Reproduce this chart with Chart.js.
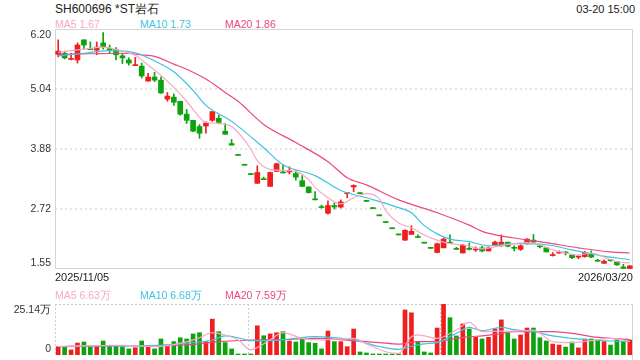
<!DOCTYPE html>
<html>
<head>
<meta charset="utf-8">
<script src="https://cdn.jsdelivr.net/npm/chart.js@4.4.1/dist/chart.umd.min.js"></script>
<style>
  body { margin: 0; width: 640px; height: 360px; overflow: hidden; background: #fff; position: relative;
         font-family: "Liberation Sans", Arial, sans-serif; color: #333; }
  .t { position: absolute; white-space: nowrap; line-height: 1; }
  #main { position: absolute; left: 0; top: 0; }
  #vol { position: absolute; left: 0; top: 298px; }
</style>
</head>
<body>
<div class="t" style="left:55px;top:3px;font-size:12px;color:#222">SH600696 *ST岩石</div>
<div class="t" style="right:5px;top:4px;font-size:11px;color:#222">03-20 15:00</div>
<div class="t" style="left:55px;top:19px;font-size:10.5px;color:#f7a8c6">MA5 1.67</div>
<div class="t" style="left:140px;top:19px;font-size:10.5px;color:#3ec3df">MA10 1.73</div>
<div class="t" style="left:225px;top:19px;font-size:10.5px;color:#ea4a7e">MA20 1.86</div>
<canvas id="main" width="640" height="272"></canvas>
<div class="t" style="left:55px;top:272px;font-size:11px;color:#222">2025/11/05</div>
<div class="t" style="right:7px;top:272px;font-size:11px;color:#222">2026/03/20</div>
<div class="t" style="left:55px;top:290px;font-size:10.5px;color:#f7a8c6">MA5 6.63万</div>
<div class="t" style="left:140px;top:290px;font-size:10.5px;color:#3ec3df">MA10 6.68万</div>
<div class="t" style="left:225px;top:290px;font-size:10.5px;color:#ea4a7e">MA20 7.59万</div>
<canvas id="vol" width="640" height="62"></canvas>
<script>
// trading days 2025/11/05 - 2026/03/20
var dates = [
  "11-05", "11-06", "11-07", "11-10", "11-11", "11-12", "11-13", "11-14", "11-17", "11-18",
  "11-19", "11-20", "11-21", "11-24", "11-25", "11-26", "11-27", "11-28", "12-01", "12-02",
  "12-03", "12-04", "12-05", "12-08", "12-09", "12-10", "12-11", "12-12", "12-15", "12-16",
  "12-17", "12-18", "12-19", "12-22", "12-23", "12-24", "12-25", "12-26", "12-29", "12-30",
  "12-31", "01-05", "01-06", "01-07", "01-08", "01-09", "01-12", "01-13", "01-14", "01-15",
  "01-16", "01-19", "01-20", "01-21", "01-22", "01-23", "01-26", "01-27", "01-28", "01-29",
  "01-30", "02-02", "02-03", "02-04", "02-05", "02-06", "02-09", "02-10", "02-11", "02-12",
  "02-13", "02-24", "02-25", "02-26", "02-27", "03-02", "03-03", "03-04", "03-05", "03-06",
  "03-09", "03-10", "03-11", "03-12", "03-13", "03-16", "03-17", "03-18", "03-19", "03-20",
];
var opens = [
  5.71, 5.73, 5.61, 5.60, 5.99, 5.82, 5.79, 5.93, 5.81, 5.80,
  5.68, 5.60, 5.49, 5.48, 5.19, 5.27, 5.21, 4.84, 4.88, 4.80,
  4.55, 4.43, 4.31, 4.32, 4.43, 4.47, 4.22, 3.98, 3.75, 3.56,
  3.38, 3.21, 3.30, 3.15, 3.44, 3.43, 3.43, 3.40, 3.26, 3.14,
  2.91, 2.75, 2.63, 2.78, 2.75, 3.01, 3.14, 3.01, 2.86, 2.72,
  2.58, 2.45, 2.33, 2.21, 2.11, 2.22, 2.17, 2.05, 1.95, 1.87,
  1.96, 2.06, 1.94, 1.86, 1.95, 1.92, 1.96, 1.90, 2.01, 2.00,
  2.07, 1.96, 1.93, 2.04, 2.11, 1.99, 1.96, 1.81, 1.86, 1.87,
  1.82, 1.78, 1.79, 1.84, 1.71, 1.66, 1.72, 1.69, 1.59, 1.56,
];
var highs = [
  5.99, 5.77, 5.73, 5.93, 5.99, 5.95, 5.95, 6.13, 5.89, 5.84,
  5.73, 5.64, 5.65, 5.54, 5.34, 5.36, 5.27, 4.97, 4.94, 4.80,
  4.64, 4.43, 4.35, 4.40, 4.60, 4.53, 4.37, 4.06, 3.75, 3.56,
  3.38, 3.55, 3.33, 3.43, 3.60, 3.57, 3.53, 3.45, 3.36, 3.14,
  3.05, 2.79, 2.87, 2.83, 2.89, 3.02, 3.18, 3.01, 2.86, 2.72,
  2.58, 2.45, 2.33, 2.21, 2.31, 2.39, 2.21, 2.05, 1.95, 2.05,
  2.15, 2.21, 1.97, 2.03, 2.05, 1.98, 1.99, 1.98, 2.09, 2.21,
  2.07, 2.00, 2.02, 2.14, 2.22, 2.00, 1.97, 1.87, 1.90, 1.89,
  1.83, 1.81, 1.89, 1.90, 1.74, 1.73, 1.74, 1.69, 1.64, 1.62,
];
var lows = [
  5.66, 5.62, 5.60, 5.54, 5.81, 5.80, 5.70, 5.81, 5.72, 5.60,
  5.53, 5.50, 5.49, 5.25, 5.19, 5.18, 4.95, 4.80, 4.72, 4.53,
  4.37, 4.21, 4.08, 4.18, 4.41, 4.36, 4.16, 3.95, 3.75, 3.56,
  3.38, 3.21, 3.28, 3.15, 3.44, 3.41, 3.39, 3.27, 3.15, 3.02,
  2.89, 2.73, 2.61, 2.71, 2.73, 2.93, 3.05, 3.01, 2.86, 2.72,
  2.58, 2.45, 2.33, 2.21, 2.10, 2.22, 2.16, 2.05, 1.95, 1.86,
  1.96, 2.05, 1.93, 1.86, 1.92, 1.89, 1.88, 1.90, 2.01, 1.99,
  1.98, 1.90, 1.91, 2.03, 2.06, 1.96, 1.88, 1.80, 1.85, 1.82,
  1.75, 1.75, 1.78, 1.77, 1.70, 1.66, 1.70, 1.62, 1.55, 1.55,
];
var closes = [
  5.77, 5.64, 5.62, 5.89, 5.89, 5.80, 5.85, 5.86, 5.80, 5.70,
  5.64, 5.54, 5.51, 5.29, 5.27, 5.21, 4.96, 4.90, 4.78, 4.55,
  4.43, 4.22, 4.18, 4.38, 4.60, 4.39, 4.16, 3.95, 3.75, 3.56,
  3.38, 3.42, 3.28, 3.42, 3.59, 3.41, 3.45, 3.33, 3.15, 3.03,
  2.89, 2.74, 2.78, 2.75, 2.85, 3.02, 3.17, 3.01, 2.86, 2.72,
  2.58, 2.45, 2.33, 2.21, 2.30, 2.28, 2.16, 2.05, 1.95, 2.04,
  2.13, 2.05, 1.93, 2.01, 1.93, 1.93, 1.90, 1.96, 2.07, 2.07,
  1.99, 1.95, 2.00, 2.13, 2.07, 1.98, 1.88, 1.82, 1.87, 1.86,
  1.77, 1.79, 1.87, 1.78, 1.70, 1.70, 1.71, 1.63, 1.56, 1.61,
];
// volume in 万股
var volumes = [
  4.1, 3.8, 2.5, 5.9, 6.4, 4.1, 4.4, 6.9, 4.8, 4.4,
  4.1, 3.0, 3.6, 6.9, 4.1, 3.0, 7.9, 4.6, 6.6, 8.5,
  7.9, 10.4, 11.0, 6.6, 17.7, 11.5, 6.1, 3.0, 0.5, 0.3,
  0.3, 14.4, 9.5, 10.4, 11.0, 11.5, 6.9, 6.4, 8.2, 6.1,
  5.8, 3.0, 11.8, 6.6, 6.6, 4.1, 12.8, 1.5, 1.0, 0.5,
  0.4, 0.3, 0.3, 0.3, 22.2, 20.8, 6.6, 1.5, 1.0, 13.3,
  25.14, 18.4, 9.4, 15.3, 12.8, 8.7, 7.9, 8.7, 12.8, 17.3,
  10.7, 7.9, 9.9, 13.3, 13.3, 8.5, 6.9, 5.4, 4.9, 3.9,
  6.4, 3.5, 7.9, 7.9, 7.4, 6.6, 4.9, 7.4, 6.4, 7.4,
];
// moving averages: [day index, value]
var ma5Pts = [[0,5.75],[4,5.81],[7,5.85],[10,5.77],[12,5.69],[14,5.50],[16,5.30],[18,5.07],[20,4.80],[22,4.49],[23,4.39],[25,4.37],[27,4.31],[28,4.20],[30,3.87],[31,3.65],[33,3.48],[35,3.46],[37,3.44],[39,3.28],[40,3.13],[42,2.93],[44,2.81],[46,2.93],[48,3.01],[50,2.91],[51,2.68],[53,2.44],[55,2.35],[57,2.21],[59,2.11],[61,2.04],[63,2.02],[66,1.94],[68,1.98],[71,2.04],[73,2.06],[75,2.02],[77,1.92],[79,1.86],[81,1.82],[83,1.86],[85,1.78],[87,1.69],[89,1.67]];
var ma10Pts = [[0,5.68],[4,5.73],[8,5.78],[12,5.74],[15,5.58],[18,5.37],[21,5.01],[23,4.72],[27,4.41],[32,3.90],[35,3.57],[40,3.36],[44,3.07],[48,2.93],[53,2.74],[55,2.64],[57,2.39],[59,2.23],[61,2.13],[64,2.08],[67,2.00],[71,2.04],[76,2.02],[80,1.92],[84,1.82],[89,1.73]];
var ma20Pts = [[0,5.71],[5,5.72],[10,5.73],[13,5.70],[15,5.67],[18,5.52],[20,5.42],[23,5.23],[26,4.97],[28,4.80],[32,4.35],[37,4.00],[42,3.63],[45,3.32],[48,3.18],[53,2.89],[59,2.64],[64,2.40],[66,2.28],[71,2.15],[76,2.06],[81,1.96],[86,1.88],[89,1.86]];
var vma5Pts = [[0,4.2],[5,4.6],[10,4.8],[15,4.1],[20,6.5],[22,8.5],[24,11.0],[26,9.8],[28,7.5],[30,2.5],[31,3.7],[33,7.5],[35,11.0],[38,8.2],[41,7.4],[46,8.2],[48,5.5],[51,1.6],[53,0.8],[55,9.0],[56,9.9],[59,8.2],[62,12.3],[64,16.1],[66,11.5],[69,11.8],[71,11.8],[74,12.3],[77,6.6],[80,6.1],[83,7.1],[86,8.2],[89,6.63]];
var vma10Pts = [[0,4.2],[10,4.5],[15,4.6],[20,5.8],[24,7.4],[26,9.4],[28,8.5],[30,7.1],[33,7.1],[36,7.9],[40,9.1],[43,8.5],[46,7.4],[50,4.2],[53,2.8],[55,4.3],[57,5.5],[59,6.1],[62,10.7],[64,13.6],[66,12.0],[69,13.6],[71,12.5],[74,11.5],[77,9.4],[80,8.2],[83,7.4],[86,6.9],[89,6.68]];
var vma20Pts = [[0,4.1],[10,4.6],[20,5.0],[25,6.6],[30,7.4],[35,7.6],[40,8.2],[46,7.1],[50,6.1],[53,5.4],[56,6.6],[59,6.6],[62,8.2],[64,9.1],[66,9.4],[69,10.7],[71,11.5],[74,11.5],[77,11.5],[80,10.7],[83,9.1],[86,8.2],[89,7.59]];

var priceTicks = [6.20, 5.04, 3.88, 2.72, 1.55];
var priceTickLabels = ["6.20", "5.04", "3.88", "2.72", "1.55"];
var volTicks = [25.14, 0];
var volTickLabels = ["25.14万", "0"];

var RED = "#f01f1f", GREEN = "#0ea30e";
var C5 = "#f7a8c6", C10 = "#3ec3df", C20 = "#ea4a7e";
var FONT = '10.5px "Liberation Sans", Arial, sans-serif';

function dayColor(i) {
  if (closes[i] > opens[i]) return RED;
  if (closes[i] < opens[i]) return GREEN;
  return i > 0 && closes[i] >= closes[i - 1] ? RED : GREEN;
}
var colors = dates.map(function (d, i) { return dayColor(i); });

function maLine(list, color) {
  return {
    type: "line",
    data: list.map(function (p) { return { x: dates[p[0]], y: p[1] }; }),
    borderColor: color,
    borderWidth: 1.2,
    pointRadius: 0,
    cubicInterpolationMode: "monotone",
    order: 0,
  };
}

function dotted(ctx, x1, y1, x2, y2) {
  ctx.beginPath();
  ctx.moveTo(x1, y1);
  ctx.lineTo(x2, y2);
  ctx.stroke();
}

// grid, frame and y labels drawn from the chart's own scale
function framePlugin(ticks, labels, drawGrid) {
  return {
    id: "frame",
    beforeDatasetsDraw: function (chart) {
      var ctx = chart.ctx;
      ctx.save();
      drawGrid(ctx, chart.chartArea, chart.scales.y);
      ctx.restore();
    },
    afterDraw: function (chart) {
      var ctx = chart.ctx, a = chart.chartArea, y = chart.scales.y;
      ctx.save();
      ctx.font = FONT;
      ctx.fillStyle = "#333";
      ctx.textAlign = "right";
      ctx.textBaseline = "middle";
      ticks.forEach(function (v, k) {
        var py = y.getPixelForValue(v);
        if (py - a.top < 7) py = a.top + 6;
        if (a.bottom - py < 7) py = a.bottom - 6;
        ctx.fillText(labels[k], a.left - 4, py);
      });
      ctx.restore();
    },
  };
}

// Main K-line chart
var ctx = document.getElementById("main").getContext("2d");
var mainChart = new Chart(ctx, {
  type: "bar",
  data: {
    labels: dates,
    datasets: [
      maLine(ma5Pts, C5),
      maLine(ma10Pts, C10),
      maLine(ma20Pts, C20),
      {
        label: "body",
        data: opens.map(function (o, i) { return [o, closes[i]]; }),
        backgroundColor: colors,
        barThickness: 5,
        minBarLength: 1,
        grouped: false,
        order: 1,
      },
      {
        label: "wick",
        data: lows.map(function (l, i) { return [l, highs[i]]; }),
        backgroundColor: colors,
        barThickness: 1,
        minBarLength: 1,
        grouped: false,
        order: 2,
      },
    ],
  },
  options: {
    responsive: false,
    animation: false,
    layout: { padding: { left: 55, right: 7, top: 29, bottom: 3 } },
    plugins: { legend: { display: false }, tooltip: { enabled: false } },
    scales: {
      x: { type: "category", display: false, offset: true },
      y: { display: false, min: 1.55, max: 6.20 },
    },
  },
  plugins: [
    framePlugin(priceTicks, priceTickLabels, function (c, a, y) {
      c.strokeStyle = "#e4e4e4";
      c.lineWidth = 2;
      c.setLineDash([2, 3]);
      priceTicks.slice(1, -1).forEach(function (v) {
        var py = Math.round(y.getPixelForValue(v));
        dotted(c, a.left, py, a.right, py);
      });
      c.setLineDash([]);
      c.lineWidth = 1;
      c.strokeStyle = "#d4d4d4";
      c.strokeRect(a.left + 0.5, a.top + 0.5, a.width - 1, a.height - 1);
    }),
  ],
});

// Volume chart
var ctx2 = document.getElementById("vol").getContext("2d");
var volChart = new Chart(ctx2, {
  type: "bar",
  data: {
    labels: dates,
    datasets: [
      maLine(vma5Pts, C5),
      maLine(vma10Pts, C10),
      maLine(vma20Pts, C20),
      {
        label: "volume",
        data: volumes,
        backgroundColor: colors,
        barThickness: 4,
        minBarLength: 1,
        order: 1,
      },
    ],
  },
  options: {
    responsive: false,
    animation: false,
    layout: { padding: { left: 55, right: 7, top: 6, bottom: 5 } },
    plugins: { legend: { display: false }, tooltip: { enabled: false } },
    scales: {
      x: { type: "category", display: false, offset: true },
      y: { display: false, min: 0, max: 25.14 },
    },
  },
  plugins: [
    framePlugin(volTicks, volTickLabels, function (c, a) {
      c.strokeStyle = "#cccccc";
      c.lineWidth = 1;
      c.setLineDash([2, 2]);
      dotted(c, a.left, a.top + 0.5, a.right, a.top + 0.5);
      [0, 1 / 3, 2 / 3].forEach(function (f) {
        var px = Math.round(a.left + a.width * f) + 0.5;
        dotted(c, px, a.top, px, a.bottom);
      });
      c.setLineDash([]);
      c.strokeStyle = "#d4d4d4";
      dotted(c, a.right - 0.5, a.top, a.right - 0.5, a.bottom + 5);
    }),
  ],
});
</script>
</body>
</html>
